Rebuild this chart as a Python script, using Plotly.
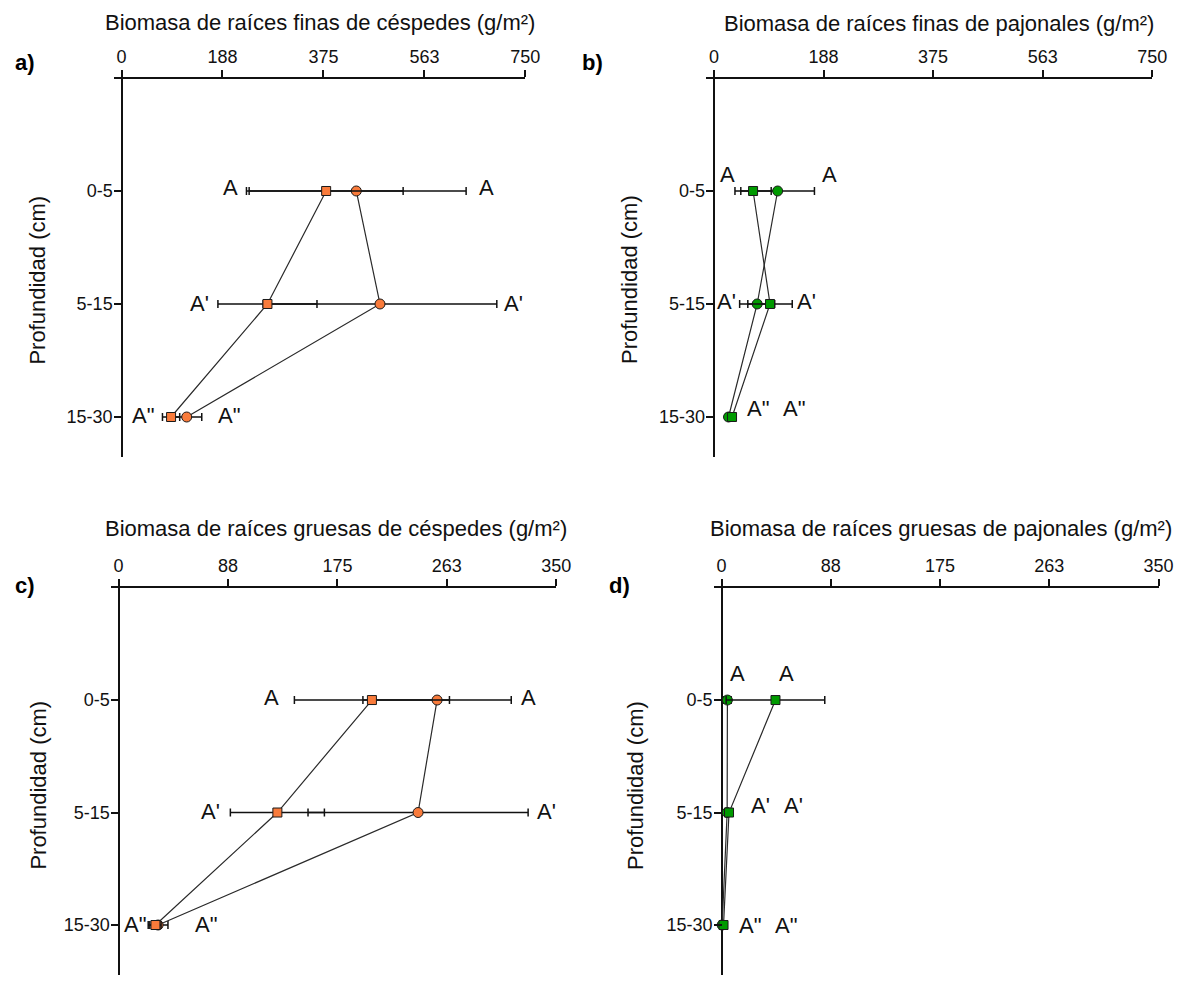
import plotly.graph_objects as go

# ---------------- data ----------------
depths = ["0-5", "5-15", "15-30"]
depth_pos = [0, 1, 2]

# a) fine roots, céspedes (g/m²)
a_square = [380, 271, 92]
a_square_err = [143, 92, 16]
a_circle = [436, 480, 121]
a_circle_err = [204, 217, 28]

# b) fine roots, pajonales
b_square = [67, 96, 31]
b_square_err = [31, 38, 6]
b_circle = [109, 74, 25]
b_circle_err = [63, 30, 5]

# c) coarse roots, céspedes
c_square = [202.6, 127, 29.5]
c_square_err = [62, 37.6, 4.5]
c_circle = [254.7, 239.5, 31.6]
c_circle_err = [59.3, 88, 7.9]

# d) coarse roots, pajonales
d_square = [43.2, 6, 1.6]
d_square_err = [39.5, 2, 1]
d_circle = [4.7, 4.5, 0.5]
d_circle_err = [3, 1, 0.5]

ticks_fine = [0, 187.5, 375, 562.5, 750]
ticks_fine_text = ["0", "188", "375", "563", "750"]
ticks_coarse = [0, 87.5, 175, 262.5, 350]
ticks_coarse_text = ["0", "88", "175", "263", "350"]

titles = [
    "Biomasa de raíces finas de céspedes (g/m²)",
    "Biomasa de raíces finas de pajonales (g/m²)",
    "Biomasa de raíces gruesas de céspedes (g/m²)",
    "Biomasa de raíces gruesas de pajonales (g/m²)",
]
panel_letters = ["a)", "b)", "c)", "d)"]
ytitle = "Profundidad (cm)"
sig_labels = ["A", "A'", 'A"']

# significance label positions (data x, per row: left/right) and vertical shift (px)
a_lab_x = [(201.7, 678.5), (144.3, 728), (40.3, 199.3)]
a_lab_dy = [3, 0, 2]
b_lab_x = [(23.2, 197.4), (21.5, 158.5), (75.6, 136.5)]
b_lab_dy = [16, 2, 9]
c_lab_x = [(122.4, 327.6), (73.7, 341.9), (13.2, 69.7)]
c_lab_dy = [3, 1, 1]
d_lab_x = [(12.7, 52.4), (31.1, 58.0), (22.4, 51.4)]
d_lab_dy = [27, 7, 0]

# ---------------- styling / geometry ----------------
OFF = 8
W, H = 1182, 967
def px(x):
    return (x - OFF) / W
def py(y):
    return max(0.0, min(1.0, 1 - (y - OFF) / H))

ORANGE = "#F97B3B"
GREEN = "#009A00"
FONT = "Arial"
TXT = "#111111"

panels = [
    dict(sq=a_square, sqe=a_square_err, ci=a_circle, cie=a_circle_err, color=ORANGE,
         xdom=[px(115), px(532)], ydom=[py(457), py(79)], xr=[-14.67, 750], yr=[2.354, -0.991],
         tv=ticks_fine, tt=ticks_fine_text, labx=a_lab_x, labdy=a_lab_dy,
         title_xy=(324, 8), letter_xy=(25, 63), ytitle_xy=(38, 280)),
    dict(sq=b_square, sqe=b_square_err, ci=b_circle, cie=b_circle_err, color=GREEN,
         xdom=[px(715), px(1167)], ydom=[py(457), py(79)], xr=[-13.5, 750], yr=[2.354, -0.991],
         tv=ticks_fine, tt=ticks_fine_text, labx=b_lab_x, labdy=b_lab_dy,
         title_xy=(951, 9), letter_xy=(600, 63), ytitle_xy=(638, 280)),
    dict(sq=c_square, sqe=c_square_err, ci=c_circle, cie=c_circle_err, color=ORANGE,
         xdom=[px(112), px(563.3)], ydom=[py(990), py(588)], xr=[-6.3, 350],
         yr=[2 + (OFF + H - 925) / 112.5, -0.996],
         tv=ticks_coarse, tt=ticks_coarse_text, labx=c_lab_x, labdy=c_lab_dy,
         title_xy=(340, 514), letter_xy=(25, 585), ytitle_xy=(38, 785)),
    dict(sq=d_square, sqe=d_square_err, ci=d_circle, cie=d_circle_err, color=GREEN,
         xdom=[px(722.7), px(1173.3)], ydom=[py(990), py(588)], xr=[-6.33, 350],
         yr=[2 + (OFF + H - 925) / 112.5, -0.996],
         tv=ticks_coarse, tt=ticks_coarse_text, labx=d_lab_x, labdy=d_lab_dy,
         title_xy=(953, 514), letter_xy=(627, 585), ytitle_xy=(643, 785)),
]

fig = go.Figure()
annotations = []
layout_axes = {}

for i, p in enumerate(panels, start=1):
    xa = "x" if i == 1 else f"x{i}"
    ya = "y" if i == 1 else f"y{i}"
    for vals, errs, sym, size in [(p["ci"], p["cie"], "circle", 10), (p["sq"], p["sqe"], "square", 9)]:
        fig.add_trace(go.Scatter(
            x=vals, y=depth_pos, xaxis=xa, yaxis=ya, mode="lines+markers",
            line=dict(color="#2a2a2a", width=1.2),
            marker=dict(symbol=sym, size=size, color=p["color"],
                        line=dict(color="#1a1a1a", width=1)),
            error_x=dict(type="data", array=errs, visible=True, color="#111111",
                         thickness=1.5, width=4),
            showlegend=False, hoverinfo="skip",
        ))
    layout_axes[f"xaxis{'' if i == 1 else i}"] = dict(
        domain=[max(0.0, p["xdom"][0]), min(1.0, p["xdom"][1])], range=p["xr"], anchor=ya, side="top",
        showline=True, linecolor="#111111", linewidth=1.5,
        ticks="outside", ticklen=7, tickwidth=1.5, tickcolor="#111111",
        tickvals=p["tv"], ticktext=p["tt"],
        tickfont=dict(family=FONT, size=18, color=TXT),
        showgrid=False, zeroline=True, zerolinecolor="#111111", zerolinewidth=1.5,
        fixedrange=True,
    )
    layout_axes[f"yaxis{'' if i == 1 else i}"] = dict(
        domain=p["ydom"], range=p["yr"], anchor=xa,
        showline=False, ticks="inside", ticklen=8, tickwidth=1.5, tickcolor="#111111",
        tickvals=depth_pos, ticktext=depths,
        tickfont=dict(family=FONT, size=18, color=TXT),
        showgrid=False, zeroline=False, fixedrange=True,
    )
    # significance labels
    for r in range(3):
        for lx in p["labx"][r]:
            annotations.append(dict(
                x=lx, y=depth_pos[r], xref=xa, yref=ya, text=sig_labels[r],
                showarrow=False, xanchor="center", yanchor="middle",
                yshift=p["labdy"][r],
                font=dict(family=FONT, size=22, color=TXT),
            ))
    tx, ty = p["title_xy"]
    annotations.append(dict(
        x=px(tx), y=py(ty), xref="paper", yref="paper", text=titles[i - 1],
        showarrow=False, xanchor="center", yanchor="top",
        font=dict(family=FONT, size=22, color=TXT),
    ))
    lx, ly = p["letter_xy"]
    annotations.append(dict(
        x=px(lx), y=py(ly), xref="paper", yref="paper", text=f"<b>{panel_letters[i - 1]}</b>",
        showarrow=False, xanchor="center", yanchor="middle",
        font=dict(family=FONT, size=22, color="#000000"),
    ))
    yx, yy = p["ytitle_xy"]
    annotations.append(dict(
        x=px(yx), y=py(yy), xref="paper", yref="paper", text=ytitle,
        showarrow=False, xanchor="center", yanchor="middle", textangle=-90,
        font=dict(family=FONT, size=22, color=TXT),
    ))

fig.update_layout(
    width=W, height=H,
    margin=dict(l=0, r=0, t=0, b=0),
    paper_bgcolor="white", plot_bgcolor="white",
    annotations=annotations,
    **layout_axes,
)

fig.write_html("out.html")
